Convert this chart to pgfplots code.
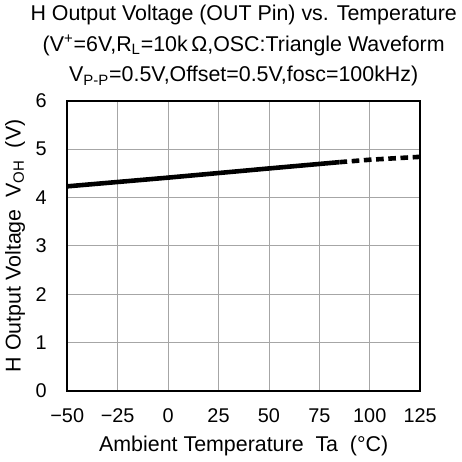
\documentclass[border=0pt]{standalone}
\usepackage{pgfplots}
\pgfplotsset{compat=1.18}
\usepackage{fontspec}
\setmainfont{Liberation Sans}
\begin{document}
\begin{tikzpicture}
\begin{axis}[
  width=231pt, height=190pt, scale only axis,
  xmin=-50, xmax=125, ymin=0, ymax=6,
  xtick={-50,-25,0,25,50,75,100,125},
  xticklabels={−50,−25,0,25,50,75,100,125},
  ytick={0,1,2,3,4,5,6},
  grid=major,
  major grid style={gray!70, line width=0.5pt},
  major tick length=0pt,
  axis line style={black, line width=1.2pt},
  /pgf/number format/assume math mode=true,
  tick label style={font=\fontsize{13}{15}\selectfont},
  xticklabel style={yshift=-8pt},
  yticklabel style={xshift=-10pt},
  xlabel={Ambient Temperature\ \ Ta\ \ (°C)},
  ylabel={H Output Voltage\ \ V\textsubscript{OH}\ \ (V)},
  label style={font=\fontsize{14}{16}\selectfont},
  xlabel style={yshift=-2pt},
  ylabel style={yshift=0pt},
  title={H Output Voltage (OUT Pin) vs. Temperature\\(V\textsuperscript{+}=6V,R\textsubscript{L}=10k\,Ω,OSC:Triangle Waveform\\V\textsubscript{P-P}=0.5V,Offset=0.5V,fosc=100kHz)},
  title style={font=\fontsize{14}{20}\selectfont, align=center, yshift=0pt},
]
\addplot[black, line width=3pt] coordinates {(-50,4.23) (0,4.41) (50,4.60) (85,4.73)};
\addplot[black, line width=3pt, dash pattern=on 5pt off 3pt] coordinates {(85,4.73) (100,4.78) (125,4.84)};
\end{axis}
\end{tikzpicture}
\end{document}
